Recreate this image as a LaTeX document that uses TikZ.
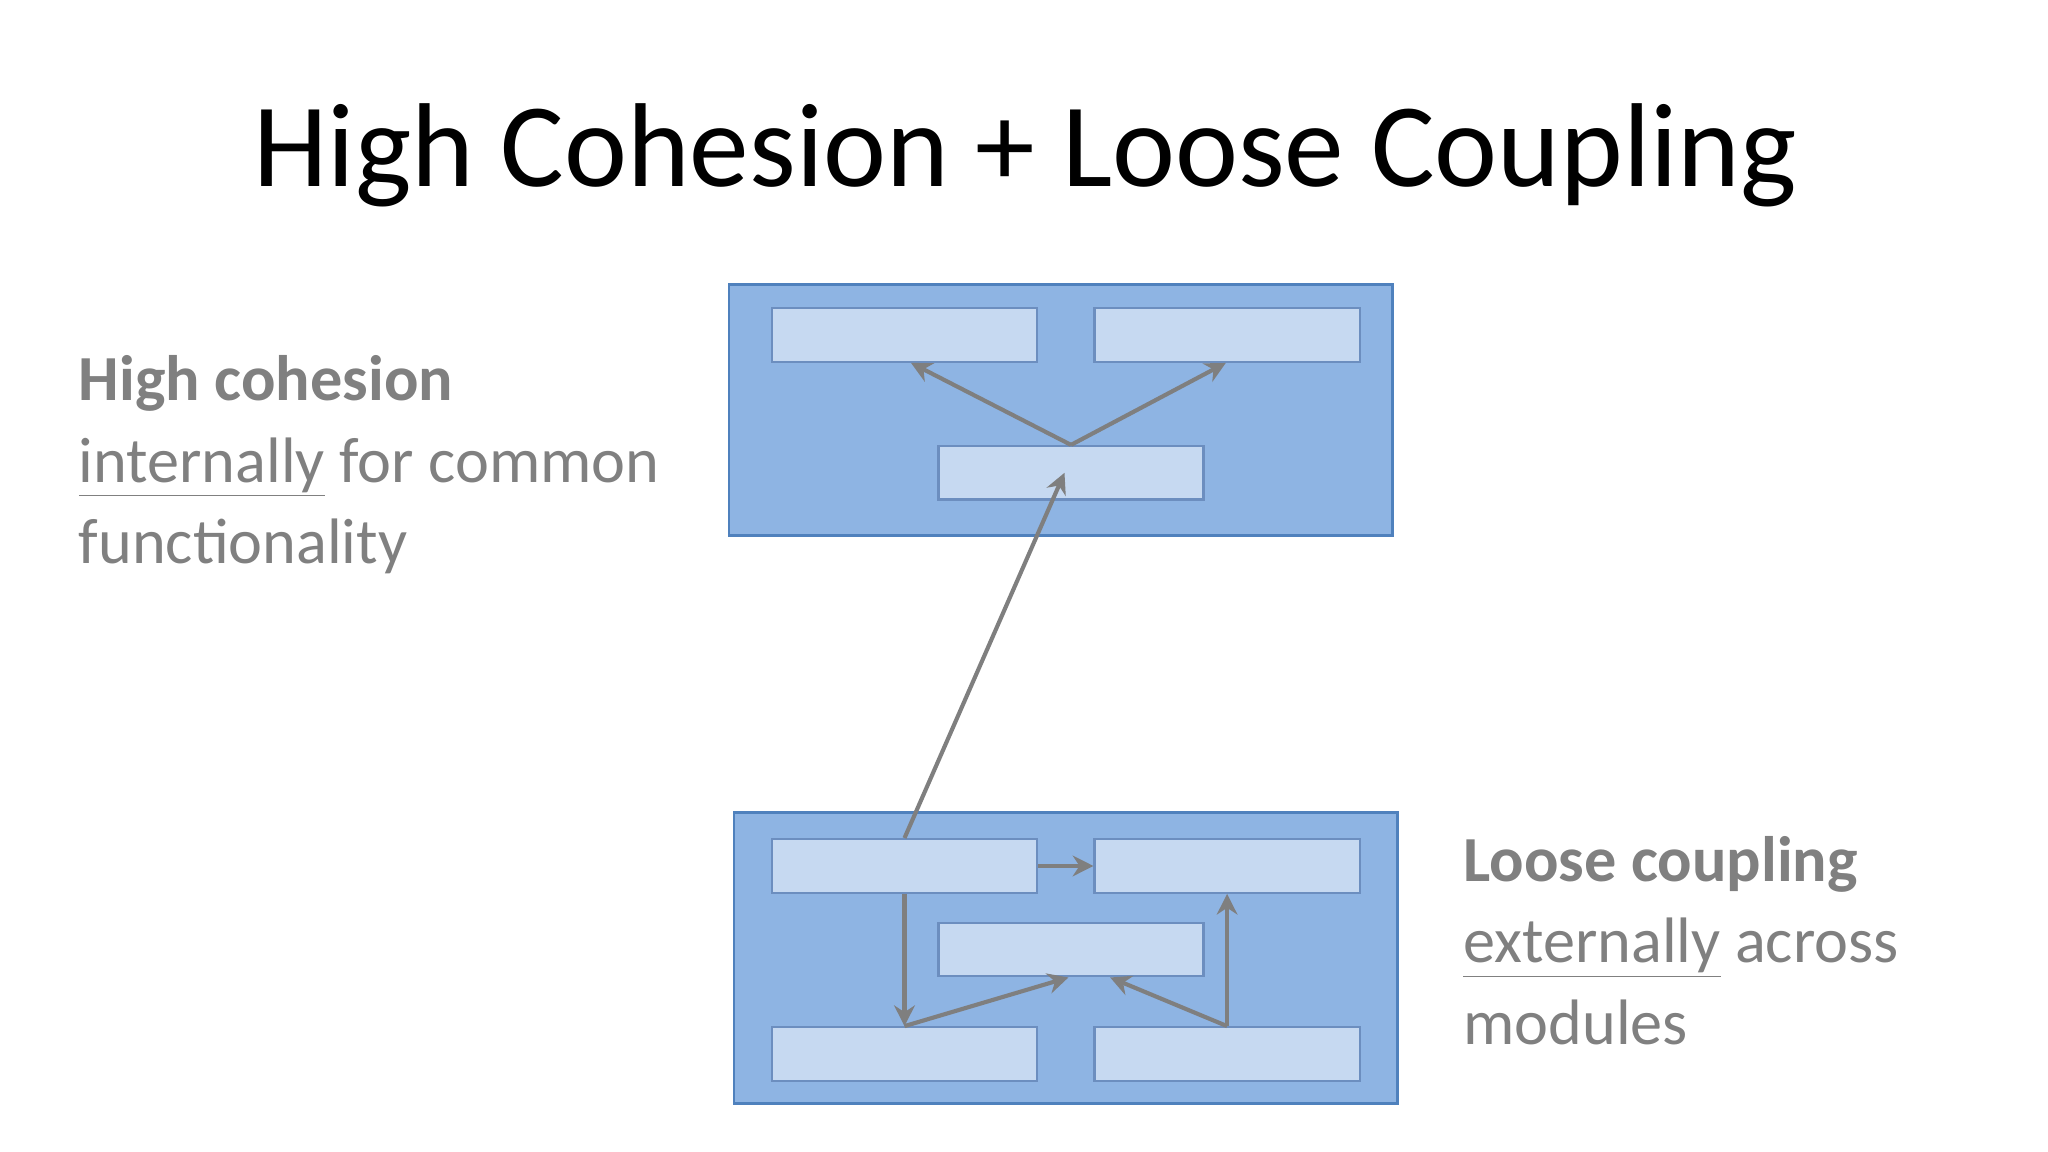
\documentclass[tikz,border=0pt]{standalone}
\usepackage{fontspec}
\usetikzlibrary{arrows.meta}
\setmainfont{Carlito}
\definecolor{modfill}{HTML}{8EB4E3}
\definecolor{modline}{HTML}{4F81BD}
\definecolor{infill}{HTML}{C6D9F1}
\definecolor{inline}{HTML}{6C8EBF}
\definecolor{arr}{HTML}{7F7F7F}
\definecolor{txt}{HTML}{808080}
\begin{document}
\begin{tikzpicture}[x=0.02cm,y=-0.02cm,
  module/.style={draw=modline,fill=modfill,line width=1.2pt,inner sep=0},
  inbox/.style={draw=inline,fill=infill,line width=1pt,minimum width=4.06cm,minimum height=0.82cm,inner sep=0},
  conn/.style={draw=arr,line width=1.8pt,-{Stealth[length=9pt,width=9pt]}},
  side/.style={font=\fontsize{28}{35.5}\selectfont,text=txt,align=left,anchor=north west,inner sep=0}]
\useasboundingbox (0,0) rectangle (1568,882);
\node[anchor=base,font=\fontsize{52}{60}\selectfont] (title) at (785,143) {High Cohesion + Loose Coupling};
\node[module,minimum width=10.16cm,minimum height=3.84cm] (top) at (812,314) {};
\node[module,minimum width=10.16cm,minimum height=4.46cm] (bot) at (816,733.5) {};
\node[inbox] (T1) at (692.5,256.5) {};
\node[inbox] (T2) at (939.5,256.5) {};
\node[inbox] (T3) at (820,362) {};
\node[inbox] (A) at (692.5,663) {};
\node[inbox] (B) at (939.5,663) {};
\node[inbox] (C) at (820,727) {};
\node[inbox] (D) at (692.5,807) {};
\node[inbox] (E) at (939.5,807) {};
\draw[conn] (T3.north) -- ([xshift=0.1cm]T1.south);
\draw[conn] (T3.north) -- ([xshift=-0.02cm]T2.south);
\draw[conn] (A.north) -- ([xshift=-0.1cm]T3.center);
\draw[conn] (A.east) -- (B.west);
\draw[conn] (A.south) -- (D.north);
\draw[conn] (D.north) -- ([xshift=-0.04cm]C.south);
\draw[conn] (E.north) -- ([xshift=0.6cm]C.south);
\draw[conn] (E.north) -- (B.south);
\node[side] (left) at (60,272) {\textbf{High cohesion}\\\underline{internally} for common\\functionality};
\node[side] (right) at (1120,640) {\textbf{Loose coupling}\\\underline{externally} across\\modules};
\end{tikzpicture}
\end{document}
